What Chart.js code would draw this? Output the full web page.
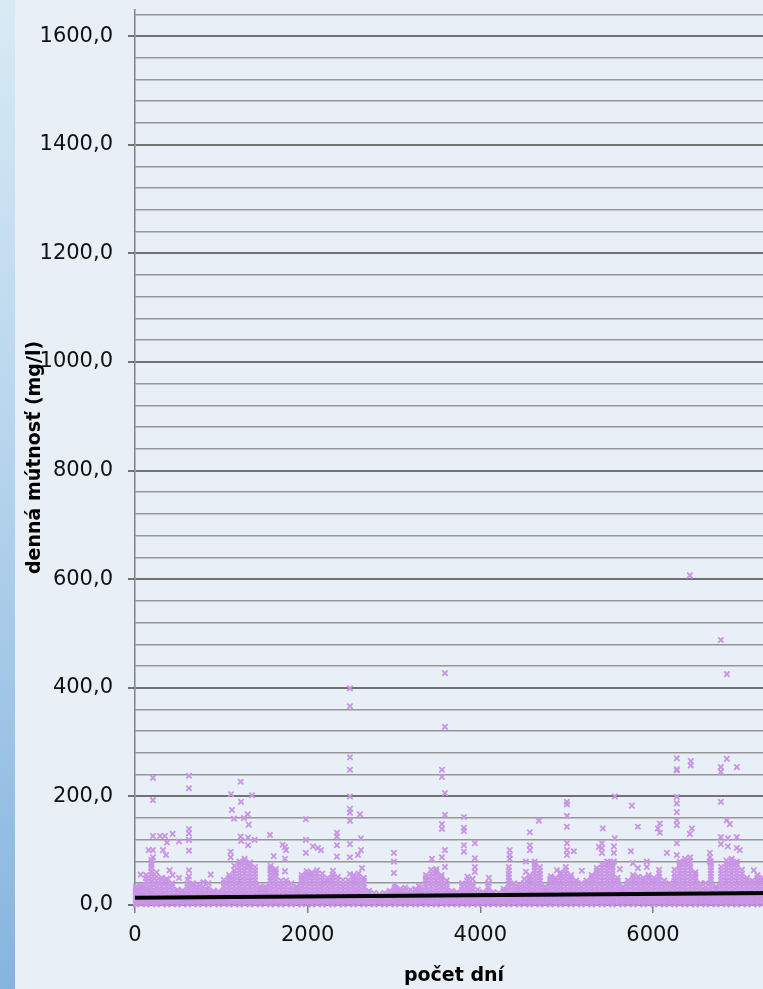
<!DOCTYPE html>
<html>
<head>
<meta charset="utf-8">
<script src="https://cdn.jsdelivr.net/npm/chart.js@4.4.1/dist/chart.umd.min.js"></script>
<style>
  html, body { margin: 0; padding: 0; width: 763px; height: 989px; overflow: hidden; background: #e9eff6; }
  #strip { position: absolute; left: 0; top: 0; width: 15px; height: 989px; background: linear-gradient(#d8eaf4, #b2d2ec 50%, #86b4df); }
  #wrap { position: absolute; left: 0; top: 0; width: 790px; height: 989px; }
</style>
</head>
<body>
<div id="strip"></div>
<div id="wrap"><canvas id="chart" width="790" height="989"></canvas></div>
<script>
// tick labels
const xTickValues = [0, 2000, 4000, 6000];
const xTickLabels = ['0', '2000', '4000', '6000'];
const yTickLabels = ['0,0', '200,0', '400,0', '600,0', '800,0', '1000,0', '1200,0', '1400,0', '1600,0'];

// dense band of daily values (day)
const bandDays = [10, 70, 130, 190, 250, 310, 370, 430, 490, 550, 610, 670, 730, 790, 850, 910, 970,
  1030, 1090, 1150, 1210, 1270, 1330, 1390, 1450, 1510, 1570, 1630, 1690, 1750, 1810, 1870, 1930, 1990,
  2050, 2110, 2170, 2230, 2290, 2350, 2410, 2470, 2530, 2590, 2650, 2710, 2770, 2830, 2890, 2950,
  3010, 3070, 3130, 3190, 3250, 3310, 3370, 3430, 3490, 3550, 3610, 3670, 3730, 3790, 3850, 3910, 3970,
  4030, 4090, 4150, 4210, 4270, 4330, 4390, 4450, 4510, 4570, 4630, 4690, 4750, 4810, 4870, 4930, 4990,
  5050, 5110, 5170, 5230, 5290, 5350, 5410, 5470, 5530, 5590, 5650, 5710, 5770, 5830, 5890, 5950,
  6010, 6070, 6130, 6190, 6250, 6310, 6370, 6430, 6490, 6550, 6610, 6670, 6730, 6790, 6850, 6910, 6970,
  7030, 7090, 7150, 7210, 7270, 7330];
const bandValues = [
  [1,5,10,15,20,25,30,34], [2,7,12,17,22,27,32,36], [1,5,10,15,20,26,31,37,43,49,55],
  [2,6,11,16,21,26,32,38,44,50,56,62,68,74,79,83], [1,5,10,15,21,27,33,39,45,52,60],
  [2,7,12,17,22,28,34,40,46,50], [1,6,11,16,21,27,33,39,44,48], [2,7,12,17,23,29,35,40],
  [1,6,11,16,21,25,28], [2,7,12,17,22,27], [1,6,11,16,21,27,33,39,46], [2,7,12,17,23,29,35,40],
  [1,6,11,16,21,27,32,38], [2,7,12,17,22,28,34,42], [1,6,11,16,21,27,33,40], [2,7,12,17,22,26],
  [1,6,11,16,21,25],
  [2,7,12,17,22,28,34,40,46], [1,6,11,16,21,27,33,39,45,50,55], [2,7,12,17,22,28,34,40,46,52,58,64,72],
  [1,6,11,16,21,27,33,39,45,51,57,63,69,75,80], [2,7,12,17,22,28,34,40,46,52,58,64,70,76,81,85],
  [1,6,11,16,21,27,33,39,45,51,57,63,69,74,78], [2,7,12,17,22,28,34,40,46,52,58,64,70],
  [1,6,11,16,21,26,30,34], [2,7,12,17,22,27,31,34], [1,6,11,16,21,27,33,39,45,51,57,63,68,72],
  [2,7,12,17,22,28,34,40,46,52,58,62,66], [1,6,11,16,21,27,33,39,45], [2,7,12,17,22,28,34,40,45],
  [1,6,11,16,21,27,33,40], [2,7,12,17,22,27,31,34], [1,6,11,16,21,27,33,39,45,50,55],
  [2,7,12,17,22,28,34,40,46,52,57,62],
  [1,6,11,16,21,27,33,39,45,51,56,60], [2,7,12,17,22,28,34,40,46,52,58,64], [1,6,11,16,21,27,33,39,45,51,58],
  [2,7,12,17,22,28,34,40,45,50], [1,6,11,16,21,27,33,39,45,51,56], [2,7,12,17,22,28,34,40,46,52],
  [1,6,11,16,21,27,33,39,46], [2,7,12,17,22,28,34,40,46], [1,6,11,16,21,27,33,39,45,50,55],
  [2,7,12,17,22,28,34,40,46,52,58], [1,6,11,16,21,27,33,39,45,50], [2,7,12,17,22,26], [1,6,11,16,22],
  [2,7,12,16,20], [1,6,11,16,22], [2,7,12,17,22,26],
  [1,6,11,16,21,27,32,37], [2,7,12,17,22,26,30], [1,6,11,16,21,27,32], [2,7,12,17,22,28],
  [1,6,11,16,21,26,30], [2,7,12,17,22,27,32], [1,6,11,16,21,27,33,39,45,50,55],
  [2,7,12,17,22,28,34,40,46,52,58,65], [1,6,11,16,21,27,33,39,45,51,57,62,66],
  [2,7,12,17,22,28,34,40,46,51,55], [1,6,11,16,21,27,33,39,45], [2,7,12,17,22,26], [1,6,11,16,20,24],
  [2,7,12,17,22,28,34,40], [1,6,11,16,21,27,33,39,45,52], [2,7,12,17,22,28,34,40,48], [1,6,11,16,21,28],
  [2,7,12,17,21,24], [1,6,11,16,21,27,33,40], [2,7,12,17,21,24], [1,6,11,16,22], [2,7,12,17,22,26,30],
  [1,6,11,16,21,27,33,39,45,51,57,63,70], [2,7,12,17,22,28,34,40], [1,6,11,16,21,27,32,38],
  [2,7,12,17,22,28,34,40,48], [1,6,11,16,21,27,33,39,45,50,55], [2,7,12,17,22,28,34,40,46,52,58,64,70,75,80],
  [1,6,11,16,21,27,33,39,45,51,57,63,70], [2,7,12,17,22,27,31,34], [1,6,11,16,21,27,33,39,44,48],
  [2,7,12,17,22,28,34,40,45,50], [1,6,11,16,21,27,33,39,45,51,56,60], [2,7,12,17,22,28,34,40,46,52,58,64,70],
  [1,6,11,16,21,27,33,39,45,50,55], [2,7,12,17,22,28,34,40,45], [1,6,11,16,21,27,33,40],
  [2,7,12,17,22,28,34,40,45], [1,6,11,16,21,27,33,39,45,50,55], [2,7,12,17,22,28,34,40,46,52,58,63,68],
  [1,6,11,16,21,27,33,39,45,51,57,63,69,75], [2,7,12,17,22,28,34,40,46,52,58,64,70,75,80],
  [1,6,11,16,21,27,33,39,45,51,57,63,69,74,78], [2,7,12,17,22,28,34,40,45,50], [1,6,11,16,21,26,30,34],
  [2,7,12,17,22,28,34,40,45], [1,6,11,16,21,27,33,39,45,50,55], [2,7,12,17,22,28,34,40,46,52],
  [1,6,11,16,21,27,33,39,45,50], [2,7,12,17,22,28,34,40,46,51,55],
  [1,6,11,16,21,27,33,39,45,50], [2,7,12,17,22,28,34,40,46,52,58,65], [1,6,11,16,21,27,33,39,45],
  [2,7,12,17,22,28,34,40], [1,6,11,16,21,27,33,39,45,51,57,65], [2,7,12,17,22,28,34,40,46,52,58,64,70,75,80],
  [1,6,11,16,21,27,33,39,45,51,57,63,69,75,80,85], [2,7,12,17,22,28,34,40,46,52,58,64,70,76,82,88],
  [1,6,11,16,21,27,33,39,45,51,56,60], [2,7,12,17,22,28,34,40], [1,6,11,16,21,27,33,40],
  [2,7,12,17,22,28,34,40,46,52,58,64,70,75,80], [1,6,11,16,21,26,30,34], [2,7,12,17,22,28,34,40,46,52,58,64,70],
  [1,6,11,16,21,27,33,39,45,51,57,63,69,75,82], [2,7,12,17,22,28,34,40,46,52,58,64,70,76,80,85],
  [1,6,11,16,21,27,33,39,45,51,57,63,69,75,80],
  [2,7,12,17,22,28,34,40,46,52,58,65], [1,6,11,16,21,27,33,39,45,50], [2,7,12,17,22,28,34,40,45],
  [1,6,11,16,21,27,33,39,45,50,55], [2,7,12,17,22,28,34,40,45,50], [1,6,11,16,21,27,33,39,45,50]
];

// isolated high readings [day, mg/l]
const peaks = [
  [66,56],[159,101],[208,88],[208,101],[208,127],[208,193],[208,234],[290,127],[324,101],[347,127],
  [360,92],[370,115],[400,64],[436,131],[436,55],[510,117],[510,50],[625,53],[625,64],[625,100],
  [625,120],[625,132],[625,140],[625,215],[625,238],[877,56],[1108,88],[1108,98],[1112,204],[1123,175],
  [1147,159],[1224,126],[1224,227],[1228,118],[1228,190],[1262,160],[1305,167],[1309,110],[1309,124],
  [1317,148],[1355,202],[1386,120],[1563,129],[1606,90],[1710,111],[1737,62],[1737,85],[1737,107],
  [1750,101],[1980,96],[1980,120],[1980,158],[2061,108],[2119,105],[2154,101],[2293,63],[2339,89],
  [2339,110],[2339,126],[2339,133],[2490,57],[2490,88],[2490,112],[2490,155],[2490,170],[2490,177],
  [2490,200],[2490,249],[2490,272],[2490,366],[2490,399],[2582,92],[2606,167],[2617,101],[2617,123],
  [2629,68],[2999,59],[2999,80],[2999,96],[3289,35],[3439,85],[3555,88],[3555,140],[3555,149],
  [3555,236],[3555,249],[3590,70],[3590,101],[3590,166],[3590,206],[3590,328],[3590,427],[3810,98],
  [3810,110],[3810,136],[3810,142],[3810,162],[3937,61],[3937,70],[3937,86],[3937,114],[4099,40],
  [4099,50],[4340,85],[4340,92],[4340,101],[4528,61],[4528,80],[4574,101],[4574,110],[4574,134],
  [4678,155],[4817,53],[4887,64],[5003,92],[5003,101],[5003,114],[5003,144],[5003,164],[5003,185],
  [5003,190],[5084,99],[5176,63],[5373,107],[5408,96],[5408,105],[5408,114],[5419,141],[5547,80],
  [5547,96],[5547,108],[5558,123],[5558,200],[5616,66],[5744,99],[5755,183],[5767,77],[5825,68],
  [5825,144],[5929,70],[5929,80],[6056,141],[6080,133],[6080,150],[6161,96],[6276,92],[6276,114],
  [6276,147],[6276,156],[6276,171],[6276,187],[6276,199],[6276,248],[6276,250],[6276,270],[6427,131],
  [6427,607],[6438,257],[6438,265],[6450,141],[6659,80],[6659,88],[6659,96],[6786,112],[6786,125],
  [6786,190],[6786,245],[6786,254],[6786,488],[6855,156],[6855,269],[6856,425],[6867,108],[6867,123],
  [6890,149],[6971,105],[6971,125],[6971,254],[7006,101],[7168,64]
];

// linear trend
const trendDays = [0, 7390];
const trendValues = [13.3, 22.3];

const points = [];
bandDays.forEach((d, i) => bandValues[i].forEach(v => points.push({ x: d, y: v })));
peaks.forEach(([d, v]) => points.push({ x: d, y: v }));
const trendPoints = trendDays.map((d, i) => ({ x: d, y: trendValues[i] }));

const tickFont = { family: 'DejaVu Sans', size: 21 };
const titleFont = { family: 'DejaVu Sans', size: 19, weight: 'bold' };
const isMajor = c => c.tick && c.tick.value % 200 === 0;

new Chart(document.getElementById('chart'), {
    type: 'scatter',
    data: {
        datasets: [
            {
                type: 'line',
                data: trendPoints,
                borderColor: '#000000',
                borderWidth: 4,
                pointRadius: 0,
                showLine: true,
                tension: 0,
                clip: false,
                order: 0
            },
            {
                data: points,
                pointStyle: 'crossRot',
                pointRadius: 3.8,
                borderColor: '#c994e6',
                backgroundColor: '#c994e6',
                borderWidth: 1.8,
                pointBorderWidth: 1.8,
                clip: false,
                order: 1
            }
        ]
    },
    options: {
        responsive: false,
        animation: false,
        events: [],
        layout: { padding: { left: 0, top: 10, right: 17, bottom: 0 } },
        plugins: { legend: { display: false }, tooltip: { enabled: false } },
        scales: {
            x: {
                type: 'linear',
                min: 0,
                max: 7390,
                afterBuildTicks: s => { s.ticks = xTickValues.map(v => ({ value: v })); },
                afterFit: s => { s.height = 84; },
                ticks: {
                    autoSkip: false,
                    padding: 10,
                    color: '#111111',
                    font: tickFont,
                    callback: v => { const i = xTickValues.indexOf(v); return i >= 0 ? xTickLabels[i] : ''; }
                },
                grid: { drawOnChartArea: false, drawTicks: true, tickLength: 8, color: '#808080', lineWidth: 1.5 },
                border: { display: false },
                title: { display: true, text: 'počet dní', color: '#000000', font: titleFont, padding: { top: 0, bottom: 2 } }
            },
            y: {
                min: 0,
                max: 1648,
                afterFit: s => { s.width = 135; s.paddingTop = 0; s.paddingBottom = 0; },
                ticks: {
                    stepSize: 40,
                    includeBounds: false,
                    autoSkip: false,
                    padding: 15,
                    color: '#111111',
                    font: tickFont,
                    callback: v => v % 200 === 0 ? yTickLabels[v / 200] : ''
                },
                grid: {
                    color: c => isMajor(c) ? '#727272' : '#969696',
                    tickColor: c => isMajor(c) ? '#727272' : 'rgba(0,0,0,0)',
                    lineWidth: c => isMajor(c) ? 2 : 1.6,
                    tickLength: 7
                },
                border: { display: true, color: '#808080', width: 1.5 },
                title: { display: true, text: 'denná mútnosť (mg/l)', color: '#000000', font: titleFont, padding: { top: 24, bottom: 0 } }
            }
        }
    }
});
</script>
</body>
</html>
